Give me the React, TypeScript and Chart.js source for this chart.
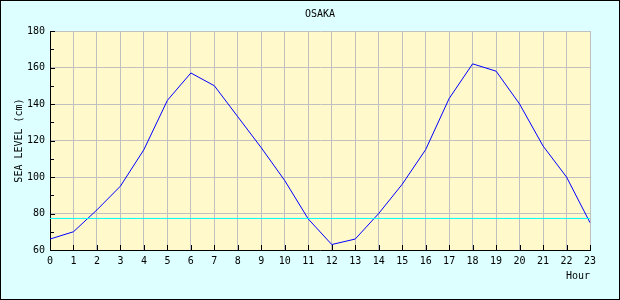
import React, { useEffect, useRef } from "react";
import { Chart, registerables } from "chart.js";

Chart.register(...registerables);

const chartTitle = "OSAKA";
const yAxisTitle = "SEA LEVEL (cm)";
const xAxisTitle = "Hour";
const hours = [0, 1, 2, 3, 4, 5, 6, 7, 8, 9, 10, 11, 12, 13, 14, 15, 16, 17, 18, 19, 20, 21, 22, 23];
const seaLevel = [66, 70, 82, 95, 115, 142, 157, 150, 133, 116, 98, 77, 63, 66, 80, 96, 115, 143, 162, 158, 140, 117, 100, 75];
const referenceLevel = [77.3, 77.3, 77.3, 77.3, 77.3, 77.3, 77.3, 77.3, 77.3, 77.3, 77.3, 77.3, 77.3, 77.3, 77.3, 77.3, 77.3, 77.3, 77.3, 77.3, 77.3, 77.3, 77.3, 77.3];
const yMin = 60;
const yMax = 180;

const FONT = { family: "'DejaVu Sans Mono', monospace", size: 10 };

const decorPlugin = {
  id: "decor",
  beforeDraw(chart: any) {
    const { ctx, chartArea, width, height } = chart;
    ctx.save();
    ctx.fillStyle = "#ddffff";
    ctx.fillRect(0, 0, width, height);
    ctx.fillStyle = "#fff9cc";
    ctx.fillRect(chartArea.left, chartArea.top, chartArea.right - chartArea.left, chartArea.bottom - chartArea.top);
    ctx.restore();
  },
  afterDraw(chart: any) {
    const { ctx, chartArea, width, height } = chart;
    const xs = chart.scales.x;
    const ys = chart.scales.y;
    ctx.save();
    ctx.strokeStyle = "#000";
    ctx.lineWidth = 1;
    ctx.beginPath();
    ys.ticks.forEach((t: any) => {
      const y = Math.round(ys.getPixelForValue(t.value)) + 0.5;
      const len = t.value % 20 === 0 ? 5 : 4;
      ctx.moveTo(chartArea.left, y);
      ctx.lineTo(chartArea.left + len, y);
    });
    xs.ticks.forEach((_t: any, i: number) => {
      const x = Math.round(xs.getPixelForTick(i)) + 0.5;
      ctx.moveTo(x, chartArea.bottom);
      ctx.lineTo(x, chartArea.bottom - 5);
    });
    ctx.stroke();
    ctx.strokeRect(0.5, 0.5, width - 1, height - 1);
    ctx.fillStyle = "#000";
    ctx.font = `${FONT.size}px ${FONT.family}`;
    ctx.textAlign = "center";
    ctx.textBaseline = "middle";
    ctx.fillText(chartTitle, (chartArea.left + chartArea.right) / 2, 14);
    ctx.restore();
  },
};

export default function App() {
  const ref = useRef<HTMLCanvasElement | null>(null);
  useEffect(() => {
    document.body.style.margin = "0";
    const canvas = ref.current!;
    const chart = new Chart(canvas, {
      type: "line",
      data: {
        labels: hours.map(String),
        datasets: [
          {
            data: referenceLevel,
            borderColor: "#00ffff",
            borderWidth: 1,
            pointRadius: 0,
            tension: 0,
          },
          {
            data: seaLevel,
            borderColor: "#0000ff",
            borderWidth: 1,
            pointRadius: 0,
            tension: 0,
          },
        ],
      },
      options: {
        responsive: false,
        animation: false,
        events: [],
        layout: { padding: { top: 31, right: 30, left: 0, bottom: 0 } },
        plugins: { legend: { display: false }, tooltip: { enabled: false }, title: { display: false } },
        scales: {
          x: {
            type: "category",
            offset: false,
            grid: { color: "#c0c0c0", drawTicks: false, lineWidth: 1 },
            border: { color: "#000", width: 1 },
            ticks: { font: FONT, color: "#000", padding: 5, maxRotation: 0, autoSkip: false },
            title: { display: true, text: xAxisTitle, align: "end", font: FONT, color: "#000", padding: { top: 0, bottom: 18 } },
            afterFit: (s: any) => { s.height = 50; },
          },
          y: {
            min: yMin,
            max: yMax,
            grid: {
              color: (c: any) => (c.tick && c.tick.value % 20 === 0 ? "#c0c0c0" : "rgba(0,0,0,0)"),
              drawTicks: false,
              lineWidth: 1,
            },
            border: { color: "#000", width: 1 },
            ticks: {
              stepSize: 10,
              font: FONT,
              color: "#000",
              padding: 5,
              autoSkip: false,
              callback: (v: any) => (Number(v) % 20 === 0 ? String(v) : ""),
            },
            title: { display: true, text: yAxisTitle, font: FONT, color: "#000", padding: { top: 13, bottom: 0 } },
            afterFit: (s: any) => { s.width = 50; },
          },
        },
      },
      plugins: [decorPlugin],
    } as any);
    return () => chart.destroy();
  }, []);
  return <canvas ref={ref} width={620} height={300} style={{ display: "block" }} />;
}
